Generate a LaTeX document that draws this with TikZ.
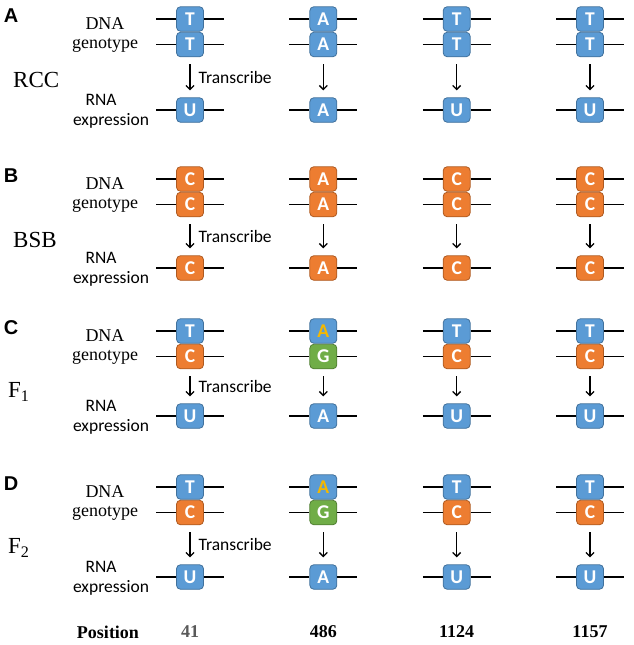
\documentclass[tikz,border=0pt]{standalone}
\usepackage{fontspec}
\setmainfont{Liberation Serif}
\setsansfont{Carlito}
\newfontfamily\panelfont{Liberation Sans}
\usetikzlibrary{arrows.meta,positioning,calc}
\definecolor{ntBlue}{HTML}{5B9BD5}
\definecolor{ntBlueDk}{HTML}{41719C}
\definecolor{ntOrange}{HTML}{ED7D31}
\definecolor{ntOrangeDk}{HTML}{AE5A21}
\definecolor{ntGreen}{HTML}{70AD47}
\definecolor{ntGreenDk}{HTML}{507E32}
\definecolor{ntGold}{HTML}{F5B800}
\tikzset{
  >={Straight Barb[length=4pt,width=8pt]},
  nt/.style={rounded corners=4pt, minimum width=27pt, minimum height=24.5pt,
             inner sep=0pt, text=white, line width=0.8pt,
             font=\sffamily\bfseries\fontsize{19.5}{20}\selectfont},
  ntblue/.style={nt, fill=ntBlue, draw=ntBlueDk},
  ntgold/.style={nt, fill=ntBlue, draw=ntBlueDk, text=ntGold},
  ntorange/.style={nt, fill=ntOrange, draw=ntOrangeDk},
  ntgreen/.style={nt, fill=ntGreen, draw=ntGreenDk},
  strand/.style={line width=1.4pt},
  transcribe/.style={->, line width=1.3pt, shorten <=7pt, shorten >=7pt},
  translbl/.style={anchor=west, xshift=7pt, inner sep=1pt,
             font=\sffamily\fontsize{17.5}{18}\selectfont},
  dnalbl/.style={inner sep=0pt, font=\rmfamily\fontsize{18}{18}\selectfont},
  rnalbl/.style={inner sep=0pt, font=\sffamily\fontsize{17.5}{18}\selectfont},
  species/.style={anchor=west, inner sep=0pt, font=\rmfamily\fontsize{23}{24}\selectfont},
  panel/.style={inner sep=0pt, font=\panelfont\bfseries\fontsize{20}{20}\selectfont},
  poslbl/.style={inner sep=0pt, font=\rmfamily\bfseries\fontsize{18}{18}\selectfont},
}

\begin{document}
\begin{tikzpicture}[x=1pt,y=-1pt]
  \useasboundingbox (0,0) rectangle (633,645);
  % panels: name/label/top strand y/RNA y/species/species x/columns
  \foreach \p/\P/\yt/\yr/\sp/\spx/\cols in {
      a/A/19/110/RCC/13/{T/ntblue/T/ntblue/U/ntblue, A/ntblue/A/ntblue/A/ntblue,
                         T/ntblue/T/ntblue/U/ntblue, T/ntblue/T/ntblue/U/ntblue},
      b/B/179/268/BSB/13/{C/ntorange/C/ntorange/C/ntorange, A/ntorange/A/ntorange/A/ntorange,
                          C/ntorange/C/ntorange/C/ntorange, C/ntorange/C/ntorange/C/ntorange},
      c/C/331/416/F\textsubscript{1}/8/{T/ntblue/C/ntorange/U/ntblue, A/ntgold/G/ntgreen/A/ntblue,
                         T/ntblue/C/ntorange/U/ntblue, T/ntblue/C/ntorange/U/ntblue},
      d/D/487/577/F\textsubscript{2}/8/{T/ntblue/C/ntorange/U/ntblue, A/ntgold/G/ntgreen/A/ntblue,
                         T/ntblue/C/ntorange/U/ntblue, T/ntblue/C/ntorange/U/ntblue}}{
    \node[panel] (\p lbl) at (11,\yt-3) {\P};
    \node[dnalbl] (\p dna) at (105,\yt+5) {DNA};
    \node[dnalbl] (\p gen) at (105,\yt+26) {genotype};
    \node[species] (\p sp) at (\spx,\yt+61) {\sp};
    \node[rnalbl] (\p rna) at (101,\yr-10) {RNA};
    \node[rnalbl] (\p expr) at (111,\yr+11) {expression};
    \foreach \t/\ts/\b/\bs/\r/\rs [count=\k] in \cols {
      \node[\ts] (\p\k t) at ({190+(\k-1)*133.33},\yt) {\t};
      \node[\bs] (\p\k b) at ({190+(\k-1)*133.33},\yt+25.5) {\b};
      \node[\rs] (\p\k r) at ({190+(\k-1)*133.33},\yr) {\r};
      \draw[strand] ([xshift=-20pt]\p\k t.west) -- (\p\k t.west)
                    (\p\k t.east) -- ([xshift=20pt]\p\k t.east);
      \draw[strand] ([xshift=-20pt]\p\k b.west) -- (\p\k b.west)
                    (\p\k b.east) -- ([xshift=20pt]\p\k b.east);
      \draw[strand] ([xshift=-20pt]\p\k r.west) -- (\p\k r.west)
                    (\p\k r.east) -- ([xshift=20pt]\p\k r.east);
      \ifnum\k=1
        \draw[transcribe] (\p\k b.south) -- node[translbl]{Transcribe} (\p\k r.north);
      \else
        \draw[transcribe] (\p\k b.south) -- (\p\k r.north);
      \fi
    }
  }
  % position row
  \node[poslbl] (pos0) at (108,632) {Position};
  \foreach \n/\c [count=\k] in {41/black!65, 486/black, 1124/black, 1157/black}
    \node[poslbl, text=\c] (pos\k) at ({190+(\k-1)*133.33},632) {\n};
\end{tikzpicture}
\end{document}
